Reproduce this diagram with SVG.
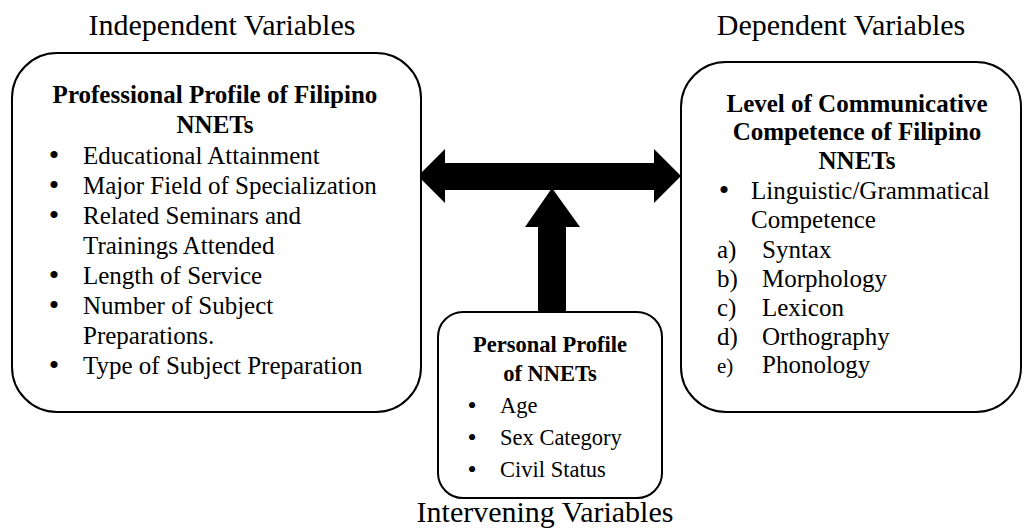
<svg xmlns="http://www.w3.org/2000/svg" width="1027" height="528" viewBox="0 0 1027 528">
<style>
.hd{font-size:30px}
.tt{font-size:25px;font-weight:bold}
.it{font-size:25px}
.bu{font-size:30px}
.st{font-size:22.5px;font-weight:bold}
.si{font-size:22.5px}
.sb{font-size:26px}
.box{fill:#fff;stroke:#000;stroke-width:2}
</style>
<rect width="1027" height="528" fill="#fff"/>
<g font-family="Liberation Serif, Times New Roman, serif" fill="#000">
<text class="hd" x="222" y="35" text-anchor="middle">Independent Variables</text>
<text class="hd" x="841" y="35" text-anchor="middle">Dependent Variables</text>
<text class="hd" x="545" y="522" text-anchor="middle">Intervening Variables</text>
<g id="connectors">
<polygon points="418,176 445,149 445,163 654,163 654,149 681,176 654,203 654,190 445,190 445,203"/>
<polygon points="552,188 580,227 566,227 566,313 538,313 538,227 525,227"/>
</g>
<g id="independent">
<rect class="box" x="12" y="53" width="409" height="359" rx="45"/>
<text class="tt" x="215" y="103" text-anchor="middle">Professional Profile of Filipino</text>
<text class="tt" x="215" y="133" text-anchor="middle">NNETs</text>
<g class="bu" text-anchor="middle">
<text x="54" y="165">•</text>
<text x="54" y="195">•</text>
<text x="54" y="225">•</text>
<text x="54" y="285">•</text>
<text x="54" y="315">•</text>
<text x="54" y="375">•</text>
</g>
<g class="it">
<text x="83" y="164">Educational Attainment</text>
<text x="83" y="194">Major Field of Specialization</text>
<text x="83" y="224">Related Seminars and</text>
<text x="83" y="254">Trainings Attended</text>
<text x="83" y="284">Length of Service</text>
<text x="83" y="314">Number of Subject</text>
<text x="83" y="344">Preparations.</text>
<text x="83" y="374">Type of Subject Preparation</text>
</g>
</g>
<g id="dependent">
<rect class="box" x="681" y="62" width="340" height="350" rx="45"/>
<text class="tt" x="857" y="112" text-anchor="middle">Level of Communicative</text>
<text class="tt" x="857" y="140" text-anchor="middle">Competence of Filipino</text>
<text class="tt" x="857" y="169" text-anchor="middle">NNETs</text>
<text class="bu" x="724" y="200" text-anchor="middle">•</text>
<g class="it">
<text x="751" y="199">Linguistic/Grammatical</text>
<text x="751" y="228">Competence</text>
<text x="717" y="258">a)</text><text x="762" y="258">Syntax</text>
<text x="717" y="287">b)</text><text x="762" y="287">Morphology</text>
<text x="717" y="316">c)</text><text x="762" y="316">Lexicon</text>
<text x="717" y="345">d)</text><text x="762" y="345">Orthography</text>
<text x="717" y="373" font-size="21">e)</text><text x="762" y="373">Phonology</text>
</g>
</g>
<g id="intervening">
<rect class="box" x="438" y="312" width="224" height="186" rx="25"/>
<text class="st" x="550" y="352" text-anchor="middle">Personal Profile</text>
<text class="st" x="550" y="381" text-anchor="middle">of NNETs</text>
<g class="sb" text-anchor="middle">
<text x="472" y="414">•</text>
<text x="472" y="446">•</text>
<text x="472" y="478">•</text>
</g>
<g class="si">
<text x="500" y="413">Age</text>
<text x="500" y="445">Sex Category</text>
<text x="500" y="477">Civil Status</text>
</g>
</g>
</g>
</svg>
